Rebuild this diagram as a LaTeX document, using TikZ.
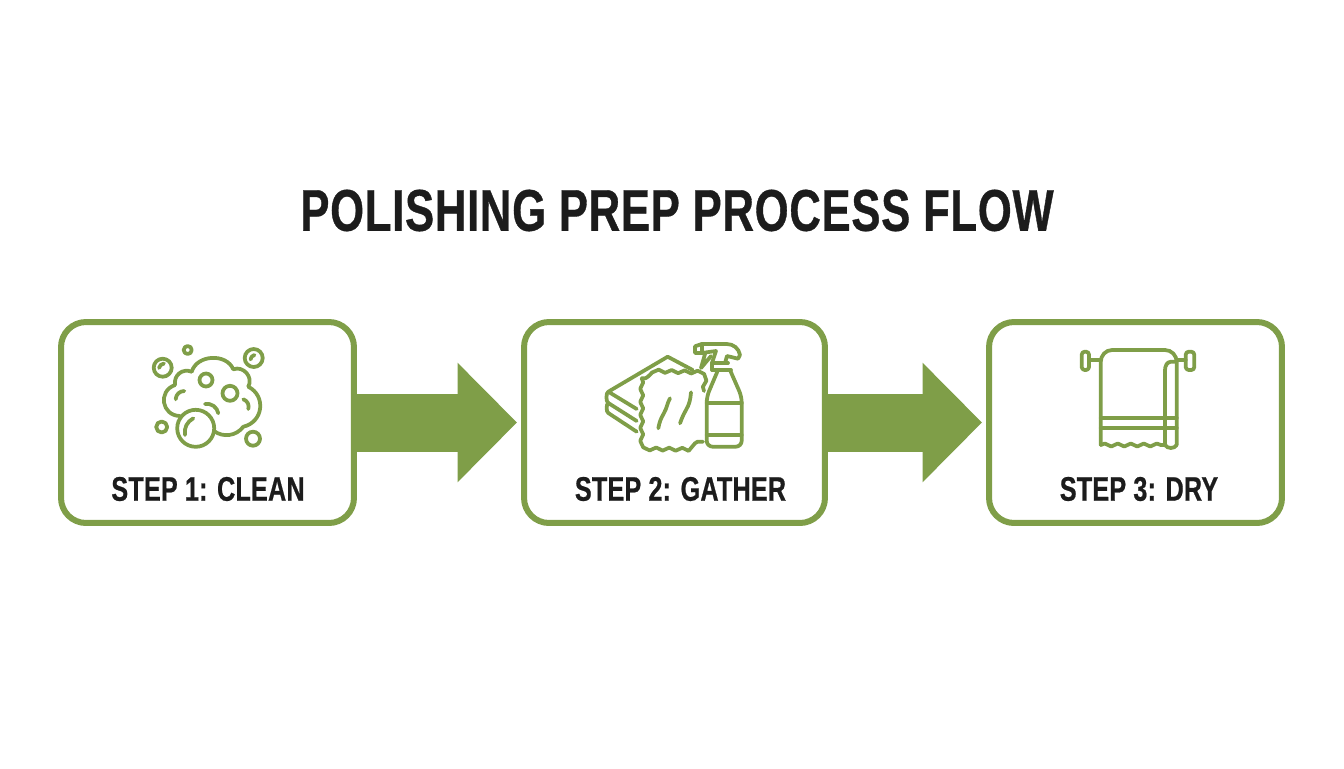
\documentclass[tikz,border=0pt]{standalone}
\usepackage{fontspec}
\usetikzlibrary{arrows.meta,decorations.pathmorphing}
\newfontfamily\headfont[FakeStretch=0.74,FakeBold=0.6,LetterSpace=1.3]{Liberation Sans Bold}
\newfontfamily\labelfont[FakeStretch=0.74,FakeBold=0.6,LetterSpace=0.5]{Liberation Sans Bold}
\definecolor{leafgreen}{HTML}{7F9E48}
\definecolor{inkblack}{HTML}{1C1C1C}
\tikzset{
  stepbox/.style={draw=leafgreen, line width=0.12cm, rounded corners=0.5cm, minimum height=4.02cm},
  steplabel/.style={text=inkblack, font=\labelfont\fontsize{19.4}{20}\selectfont, inner sep=0pt},
  flowarrow/.style={draw=leafgreen, line width=1.16cm, shorten >=0.08cm, -{Triangle[length=1.19cm,width=2.32cm,fill=leafgreen]}},
  iconline/.style={draw=leafgreen, line width=0.075cm, line cap=round, line join=round},
  wavy/.style={decorate, decoration={snake, segment length=#1 cm, amplitude=0.03cm}}
}
\begin{document}
\begin{tikzpicture}[x=0.02cm,y=-0.02cm]
  \useasboundingbox (0,0) rectangle (1344,768);
  \node[text=inkblack, font=\headfont\fontsize{33.5}{36}\selectfont, inner sep=0pt] (title) at (677,210.5) {POLISHING PREP PROCESS FLOW};
  \node[stepbox, minimum width=5.86cm] (box1) at (207.5,422.5) {};
  \node[stepbox, minimum width=6.02cm] (box2) at (674.5,422.5) {};
  \node[stepbox, minimum width=5.86cm] (box3) at (1135.5,422.5) {};
  \draw[flowarrow] (box1.east) -- (box2.west);
  \draw[flowarrow] (box2.east) -- (box3.west);
  \node[steplabel] (label1) at (208,489) {STEP 1: CLEAN};
  \node[steplabel] (label2) at (680.5,489) {STEP 2: GATHER};
  \node[steplabel] (label3) at (1139,489) {STEP 3: DRY};
  % bubbles
  \draw[iconline] (187.7,350) circle[radius=4];
  \draw[iconline] (162.7,367.7) circle[radius=9];
  \draw[iconline] (253.7,358) circle[radius=9];
  \draw[iconline] (161.7,427) circle[radius=5.5];
  \draw[iconline] (253,438.7) circle[radius=7];
  \draw[iconline] (195.7,428.3) circle[radius=18.5];
  \draw[iconline] (206,380) circle[radius=6.5];
  \draw[iconline] (230,393.3) circle[radius=7.5];
  \draw[iconline, looseness=1.5] (180,416) to[bend left=80] (175,385);
  \draw[iconline, looseness=1.2] (175,385) to[bend left=60] (191.7,371.7);
  \draw[iconline, looseness=1.1] (191.7,371.7) to[bend left=70] (233.3,369.3);
  \draw[iconline, looseness=1.2] (233.3,369.3) to[bend left=70] (248.3,386.7);
  \draw[iconline, looseness=1.3] (248.3,386.7) to[bend left=70] (243.3,426.7);
  \draw[iconline] (243.3,426.7) to[bend left=45] (214,431);
  \draw[iconline] (175.7,399.3) to[bend left=45] (184.3,391);
  \draw[iconline] (205,404) to[bend left=45] (218.3,413.3);
  \draw[iconline] (243.3,399.3) to[bend left=45] (248.3,409);
  \draw[iconline] (185,435) to[bend left=35] (193.3,418.3);
  \draw[iconline] (159,368) to[bend left=35] (164,363.5);
  \draw[iconline] (250.5,359.5) to[bend left=35] (254.5,355);
  % cloths and spray bottle
  \draw[iconline] (692.7,370) -- (667.7,356.7) -- (608.3,391.7) -- (636.7,409);
  \draw[iconline] (608.3,391.7) to[out=200,in=160,looseness=0.6] (608.3,403) -- (636.7,421);
  \draw[iconline] (608.3,403) to[out=200,in=160,looseness=0.6] (608.3,413) -- (636.7,431.7);
  \draw[iconline, wavy=0.26] (704,391) -- (705,380) -- (641.7,378.3);
  \draw[iconline, wavy=0.26] (641.7,378.3) -- (641.7,441) -- (703,441.7);
  \draw[iconline] (670,398.3) to[out=240,in=60] (664,413) to[out=240,in=80] (658.3,428.3);
  \draw[iconline] (691,392.3) to[out=265,in=60] (686,410) to[out=240,in=70] (680,423.3);
  \draw[iconline, rounded corners=0.12cm] (718,370) -- (706.7,396.7) -- (706.7,446.7) -- (741.7,446.7) -- (741.7,396.7) -- (730,370);
  \draw[iconline] (706.7,403.3) -- (741.7,403.3);
  \draw[iconline] (706.7,435) -- (741.7,435);
  \draw[iconline] (712,370) -- (731,370);
  \draw[iconline] (712,363) -- (728,363);
  \draw[iconline] (712,370) -- (712,363) -- (716,351) -- (701.7,353) -- (695,353) -- (695,346.3) -- (701.7,344);
  \draw[iconline] (701.7,344) -- (726.7,344) to[out=0,in=100] (740,355) -- (738,358.7) -- (727,356) -- (725,363);
  \draw[iconline] (701.7,344) -- (701.7,353);
  \draw[iconline] (705,354) -- (701,368) -- (711,356);
  % towel
  \draw[iconline, rounded corners=0.06cm] (1081.7,351.7) rectangle (1089,370);
  \draw[iconline, rounded corners=0.06cm] (1185.7,351.7) rectangle (1194.3,370);
  \draw[iconline] (1089,360) -- (1100.7,360);
  \draw[iconline] (1176.7,360) -- (1185.7,360);
  \draw[iconline] (1100.7,445) -- (1100.7,362) to[out=90,in=180] (1112,350) -- (1165,350) to[out=0,in=90] (1176.7,362) -- (1176.7,445);
  \draw[iconline] (1165,445) -- (1165,370) to[out=90,in=180] (1171,361.7) -- (1176.7,361.7);
  \draw[iconline] (1100.7,417.7) -- (1176.7,417.7);
  \draw[iconline] (1100.7,427.7) -- (1176.7,427.7);
  \draw[iconline, wavy=0.26] (1100.7,445) -- (1165,445);
  \draw[iconline] (1165,445) to[out=-60,in=240] (1176.7,445);
\end{tikzpicture}
\end{document}
